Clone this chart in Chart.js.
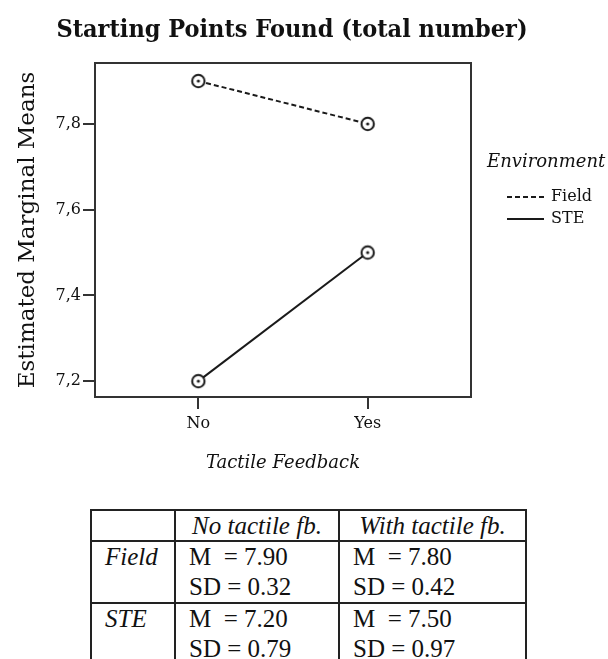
<!DOCTYPE html>
<html><head><meta charset="utf-8">
<script src="https://cdn.jsdelivr.net/npm/chart.js@4/dist/chart.umd.min.js"></script>
<style>
html,body{margin:0;padding:0;background:#fff;}
#wrap{position:relative;width:608px;height:659px;overflow:hidden;background:#fff;}
#c{position:absolute;left:0;top:0;}
#tbl{position:absolute;left:90px;top:509px;border-collapse:collapse;color:#111;font-family:'Liberation Serif',serif;font-size:25px;table-layout:fixed;}
#tbl td{border:2px solid #222;padding:0 0 0 13px;vertical-align:top;line-height:30px;white-space:nowrap;overflow:hidden;}
#tbl .hd{font-style:italic;text-align:center;padding:0;line-height:29px;}
#tbl .rh{font-style:italic;}
</style>
</head><body>
<div id="wrap">
<canvas id="c" width="608" height="490"></canvas>
<table id="tbl"></table>
</div>
<script>
const categories = ['No', 'Yes'];
const seriesNames = ['Field', 'STE'];
const fieldMeans = [7.90, 7.80];
const steMeans = [7.20, 7.50];
const yTickValues = [7.2, 7.4, 7.6, 7.8];
const tableHeaders = ['No tactile fb.', 'With tactile fb.'];
const fieldSD = [0.32, 0.42];
const steSD = [0.79, 0.97];

// table
(function(){
  const t = document.getElementById('tbl');
  const widths = [84, 164, 187];
  let h = '<colgroup>' + widths.map(w => '<col style="width:' + w + 'px">').join('') + '</colgroup>';
  h += '<tr style="height:31px"><td></td>';
  tableHeaders.forEach(s => { h += '<td class="hd">' + s + '</td>'; });
  h += '</tr>';
  const rows = [[seriesNames[0], fieldMeans, fieldSD], [seriesNames[1], steMeans, steSD]];
  rows.forEach(r => {
    h += '<tr style="height:61px"><td class="rh">' + r[0] + '</td>';
    for (let i = 0; i < 2; i++) {
      h += '<td>M &nbsp;= ' + r[1][i].toFixed(2) + '<br>SD = ' + r[2][i].toFixed(2) + '</td>';
    }
    h += '</tr>';
  });
  t.innerHTML = h;
})();

function makeMarker() {
  const c = document.createElement('canvas');
  c.width = 18; c.height = 18;
  const g = c.getContext('2d');
  g.fillStyle = '#fff';
  g.beginPath(); g.arc(9, 9, 6.2, 0, Math.PI * 2); g.fill();
  g.lineWidth = 2; g.strokeStyle = '#1a1a1a'; g.stroke();
  g.fillStyle = '#1a1a1a';
  g.beginPath(); g.arc(9, 9, 1.6, 0, Math.PI * 2); g.fill();
  return c;
}
const mk = makeMarker();

const frame = {
  id: 'frame',
  beforeDatasetsDraw(chart) {
    const a = chart.chartArea, c = chart.ctx;
    c.save(); c.strokeStyle = '#333'; c.lineWidth = 2;
    c.strokeRect(a.left, a.top, a.right - a.left, a.bottom - a.top);
    c.restore();
  }
};
const envLegend = {
  id: 'envLegend',
  afterDraw(chart) {
    const a = chart.chartArea, c = chart.ctx;
    c.save();
    c.fillStyle = '#111'; c.textBaseline = 'middle'; c.textAlign = 'left';
    c.font = 'italic 18px "DejaVu Serif"';
    c.fillText('Environment', a.right + 16, a.top + 99);
    chart.data.datasets.forEach((d, i) => {
      const y = a.top + 134 + i * 22;
      c.strokeStyle = d.borderColor; c.lineWidth = 2;
      c.setLineDash(d.borderDash || []);
      c.beginPath(); c.moveTo(a.right + 36, y); c.lineTo(a.right + 73, y); c.stroke();
      c.setLineDash([]);
      c.font = '16px "DejaVu Serif"';
      c.fillText(d.label, a.right + 80, y);
    });
    c.restore();
  }
};

const serif = "'DejaVu Serif', serif";
new Chart(document.getElementById('c'), {
  type: 'line',
  data: {
    datasets: [
      { label: seriesNames[0], data: categories.map((c, i) => ({ x: i, y: fieldMeans[i] })),
        borderColor: '#1a1a1a', borderWidth: 2, borderDash: [5, 3], pointStyle: mk, pointRadius: 8, pointHoverRadius: 8 },
      { label: seriesNames[1], data: categories.map((c, i) => ({ x: i, y: steMeans[i] })),
        borderColor: '#1a1a1a', borderWidth: 2, pointStyle: mk, pointRadius: 8, pointHoverRadius: 8 }
    ]
  },
  options: {
    responsive: false, animation: false, devicePixelRatio: 1,
    layout: { padding: { left: 0, right: 24, top: 0, bottom: 0 } },
    plugins: {
      legend: { display: false }, tooltip: { enabled: false },
      title: { display: true, text: 'Starting Points Found (total number)', color: '#111',
        font: { family: "'DejaVu Serif Condensed','DejaVu Serif',serif", size: 25, weight: 'bold' },
        padding: { top: 15, bottom: 18 } }
    },
    scales: {
      x: {
        type: 'linear', min: -0.61, max: 1.61,
        afterBuildTicks: s => { s.ticks = categories.map((c, i) => ({ value: i })); },
        afterFit: s => { s.height = 93; },
        ticks: { callback: v => categories[v], color: '#111', font: { family: serif, size: 16 }, padding: 5, maxRotation: 0, autoSkip: false },
        grid: { drawOnChartArea: false, tickLength: 12, color: '#333', lineWidth: 2 },
        border: { display: true, color: '#333', width: 2 },
        title: { display: true, text: 'Tactile Feedback', color: '#111', font: { family: serif, size: 18, style: 'italic' }, padding: { top: 0, bottom: 16 } }
      },
      y: {
        type: 'linear', min: 7.163, max: 7.942,
        afterBuildTicks: s => { s.ticks = yTickValues.map(v => ({ value: v })); },
        afterFit: s => { s.width = 95; },
        ticks: { callback: v => v.toFixed(1).replace('.', ','), color: '#111', font: { family: serif, size: 16 }, padding: 2 },
        grid: { drawOnChartArea: false, tickLength: 12, color: '#333', lineWidth: 2 },
        border: { display: true, color: '#333', width: 2 },
        title: { display: true, text: 'Estimated Marginal Means', color: '#111', font: { family: serif, size: 23 }, padding: { top: 14, bottom: 0 } }
      },
      yR: {
        type: 'linear', position: 'right', display: true,
        grid: { display: false }, border: { display: false }, ticks: { display: false },
        afterFit: s => { s.width = 113; }
      }
    }
  },
  plugins: [frame, envLegend]
});
</script>
</body></html>
